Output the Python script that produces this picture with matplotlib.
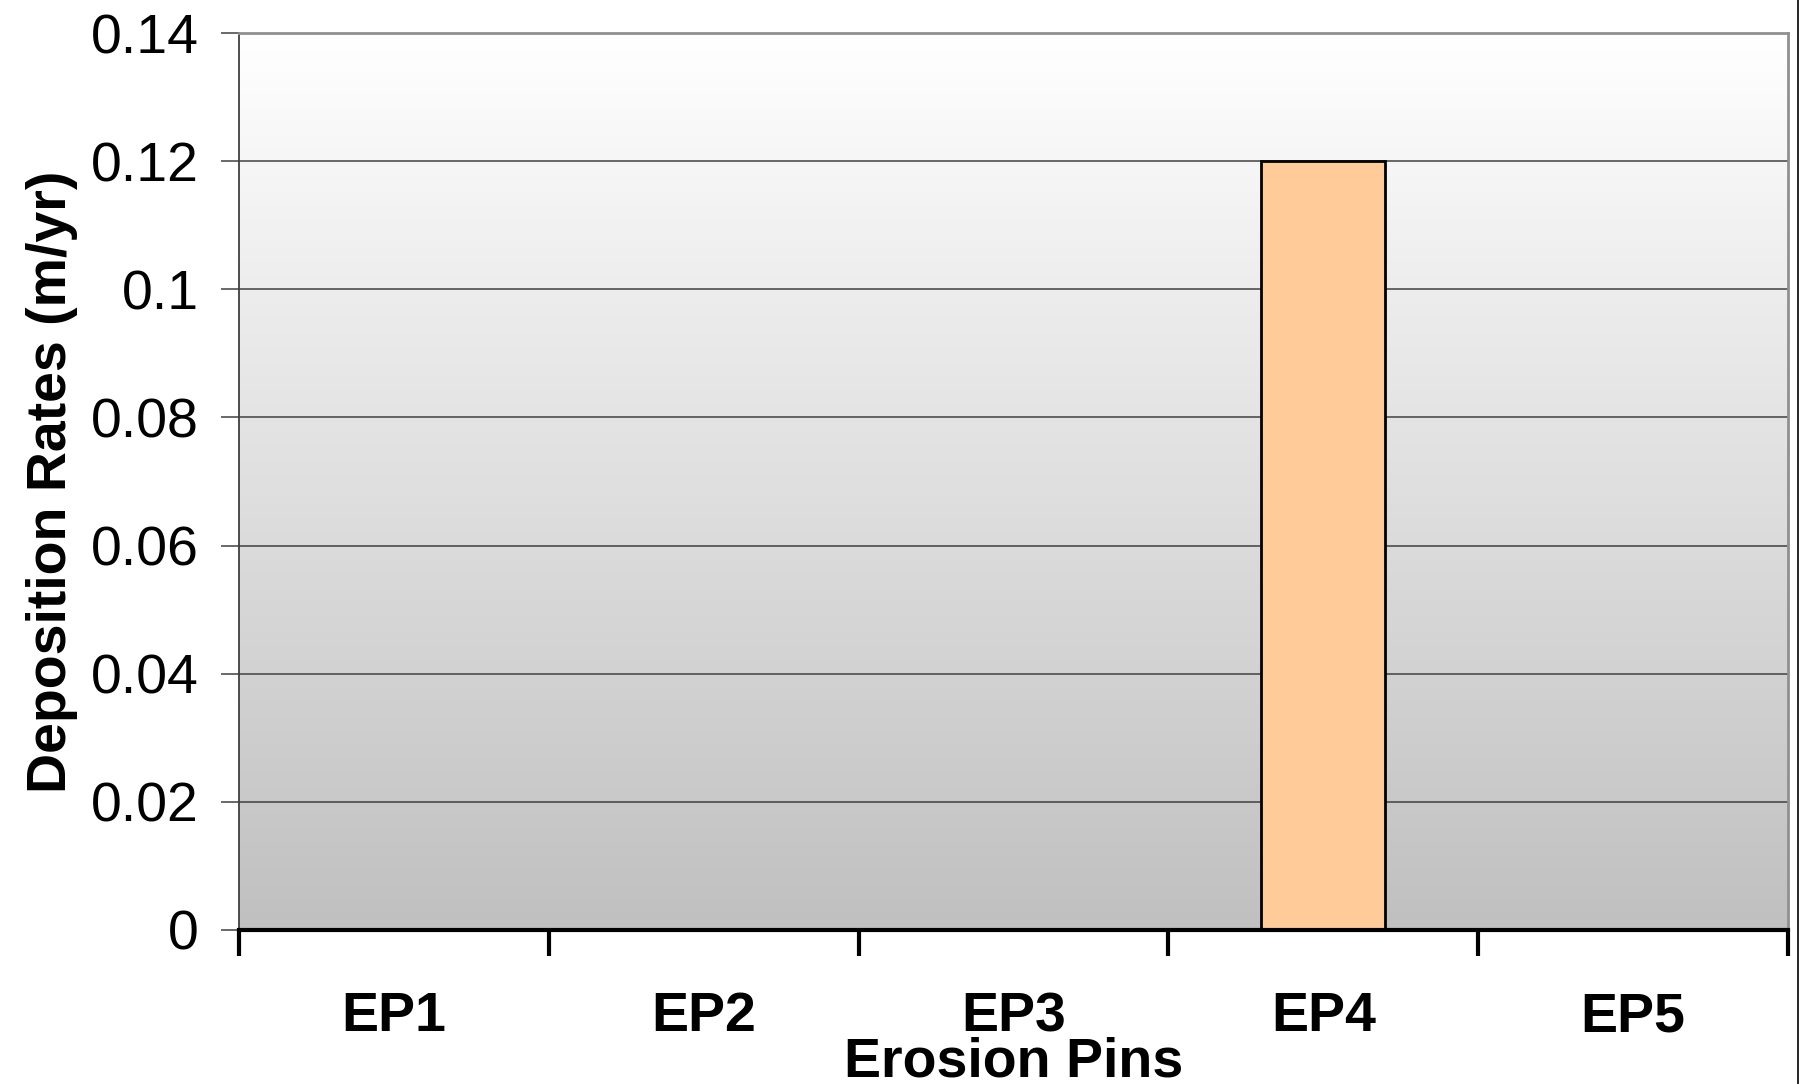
import numpy as np
import matplotlib
matplotlib.use('Agg')
import matplotlib.pyplot as plt
from matplotlib.lines import Line2D

# data
pins = ['EP1', 'EP2', 'EP3', 'EP4', 'EP5']
rates = [0.0, 0.0, 0.0, 0.12, 0.0]
yticks = [0, 0.02, 0.04, 0.06, 0.08, 0.1, 0.12, 0.14]
ytick_labels = ['0', '0.02', '0.04', '0.06', '0.08', '0.1', '0.12', '0.14']

plt.rcParams['font.family'] = ['Liberation Sans', 'DejaVu Sans']

fig = plt.figure(figsize=(18.05, 10.84), dpi=100)
ax = fig.add_axes([239/1805, 1 - 930/1084, (1788-239)/1805, (930-33)/1084])

# grey gradient background (white at top, grey at bottom)
grad = np.linspace(0, 1, 256).reshape(-1, 1)
ax.imshow(grad, extent=[0, 1, 0, 1], transform=ax.transAxes, aspect='auto',
          cmap=matplotlib.colors.LinearSegmentedColormap.from_list('g', ['#c0c0c0', '#ffffff']),
          origin='lower', zorder=0)

x = np.arange(len(pins))
ax.bar(x, rates, width=0.4, color='#ffcc99', edgecolor='black', linewidth=2, zorder=3)

ax.set_xlim(-0.5, len(pins) - 0.5)
ax.set_ylim(0, 0.14)
ax.set_yticks(yticks)
ax.set_yticklabels(ytick_labels)
ax.yaxis.grid(True, color='#404040', linewidth=1.1, zorder=1)
ax.set_axisbelow(True)

# category boundaries as major ticks, names as minor ticks
ax.set_xticks(np.arange(len(pins) + 1) - 0.5)
ax.set_xticklabels([])
ax.set_xticks(x, minor=True)
ax.set_xticklabels(pins, minor=True, fontsize=40, fontweight='bold')
ax.tick_params(axis='x', which='major', length=19, width=3, color='black', direction='out')
ax.tick_params(axis='x', which='minor', length=0, pad=44)
ax.tick_params(axis='y', labelsize=40, length=13, width=1.1, color='#404040', pad=16)

for s in ['top', 'right']:
    ax.spines[s].set_color('#909090')
    ax.spines[s].set_linewidth(2)
ax.spines['left'].set_color('#404040')
ax.spines['left'].set_linewidth(1.3)
ax.spines['bottom'].set_color('black')
ax.spines['bottom'].set_linewidth(3)
ax.spines['bottom'].set_zorder(5)

ax.set_xlabel('Erosion Pins', fontsize=40, fontweight='bold', labelpad=-5)
ax.set_ylabel('Deposition Rates (m/yr)', fontsize=40, fontweight='bold')
ax.yaxis.set_label_coords(-0.104, 0.5)

# thin frame line at right edge of the picture
fig.add_artist(Line2D([1798/1805, 1798/1805], [0, 1], color='black', linewidth=1.2,
                      transform=fig.transFigure))

fig.savefig('out.png', dpi=100)
